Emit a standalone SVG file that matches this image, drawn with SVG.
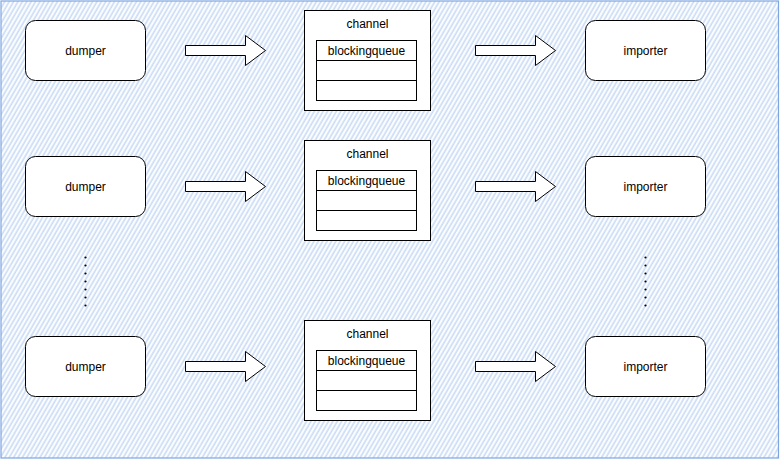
<svg xmlns="http://www.w3.org/2000/svg" width="781" height="461" viewBox="0 0 781 461">
  <defs>
    <pattern id="hatch" width="3.8" height="10" patternUnits="userSpaceOnUse" patternTransform="rotate(30)">
      <rect width="3.8" height="10" fill="#ffffff"/>
      <line x1="1.2" y1="0" x2="1.2" y2="10" stroke="#c9dcf6" stroke-width="1.7"/>
    </pattern>
    <style>
      .box { fill: #ffffff; stroke: #000000; stroke-width: 1; }
      .arrow { fill: #ffffff; stroke: #000000; stroke-width: 1; stroke-linejoin: miter; }
      .lbl { font-family: "Liberation Sans", Arial, Helvetica, sans-serif; font-size: 12px; fill: #000000; text-anchor: middle; }
      .dot { fill: #000000; }
    </style>
  </defs>

  <g id="background">
    <rect x="1" y="1" width="777.5" height="457" fill="url(#hatch)" stroke="#7ea6e0" stroke-width="1.2"/>
  </g>

  <g id="dumper1">
    <rect class="box" x="25.5" y="20.5" width="120" height="60" rx="10" ry="10"/>
    <text class="lbl" x="85.5" y="54.5">dumper</text>
  </g>
  <g id="dumper2">
    <rect class="box" x="25.5" y="156.5" width="120" height="60" rx="10" ry="10"/>
    <text class="lbl" x="85.5" y="190.5">dumper</text>
  </g>
  <g id="dumper3">
    <rect class="box" x="25.5" y="336.5" width="120" height="60" rx="10" ry="10"/>
    <text class="lbl" x="85.5" y="370.5">dumper</text>
  </g>

  <g id="channel1">
    <rect class="box" x="304.5" y="10.5" width="126" height="100"/>
    <text class="lbl" x="367.5" y="27.5">channel</text>
    <rect class="box" x="316.5" y="40.5" width="100" height="60"/>
    <line x1="316.5" y1="60.5" x2="416.5" y2="60.5" stroke="#000"/>
    <line x1="316.5" y1="80.5" x2="416.5" y2="80.5" stroke="#000"/>
    <text class="lbl" x="366.5" y="55">blockingqueue</text>
  </g>
  <g id="channel2">
    <rect class="box" x="304.5" y="140.5" width="126" height="100"/>
    <text class="lbl" x="367.5" y="157.5">channel</text>
    <rect class="box" x="316.5" y="170.5" width="100" height="60"/>
    <line x1="316.5" y1="190.5" x2="416.5" y2="190.5" stroke="#000"/>
    <line x1="316.5" y1="210.5" x2="416.5" y2="210.5" stroke="#000"/>
    <text class="lbl" x="366.5" y="185">blockingqueue</text>
  </g>
  <g id="channel3">
    <rect class="box" x="304.5" y="320.5" width="126" height="100"/>
    <text class="lbl" x="367.5" y="337.5">channel</text>
    <rect class="box" x="316.5" y="350.5" width="100" height="60"/>
    <line x1="316.5" y1="370.5" x2="416.5" y2="370.5" stroke="#000"/>
    <line x1="316.5" y1="390.5" x2="416.5" y2="390.5" stroke="#000"/>
    <text class="lbl" x="366.5" y="365">blockingqueue</text>
  </g>

  <g id="importer1">
    <rect class="box" x="585.5" y="20.5" width="120" height="60" rx="10" ry="10"/>
    <text class="lbl" x="645.5" y="54.5">importer</text>
  </g>
  <g id="importer2">
    <rect class="box" x="585.5" y="156.5" width="120" height="60" rx="10" ry="10"/>
    <text class="lbl" x="645.5" y="190.5">importer</text>
  </g>
  <g id="importer3">
    <rect class="box" x="585.5" y="336.5" width="120" height="60" rx="10" ry="10"/>
    <text class="lbl" x="645.5" y="370.5">importer</text>
  </g>

  <g id="ellipsis-left">
    <circle class="dot" cx="85.5" cy="257.5" r="1.1"/>
    <circle class="dot" cx="85.5" cy="265.5" r="1.1"/>
    <circle class="dot" cx="85.5" cy="273.5" r="1.1"/>
    <circle class="dot" cx="85.5" cy="281.5" r="1.1"/>
    <circle class="dot" cx="85.5" cy="289.5" r="1.1"/>
    <circle class="dot" cx="85.5" cy="297.5" r="1.1"/>
    <circle class="dot" cx="85.5" cy="305.5" r="1.1"/>
  </g>
  <g id="ellipsis-right">
    <circle class="dot" cx="645.5" cy="257.5" r="1.1"/>
    <circle class="dot" cx="645.5" cy="265.5" r="1.1"/>
    <circle class="dot" cx="645.5" cy="273.5" r="1.1"/>
    <circle class="dot" cx="645.5" cy="281.5" r="1.1"/>
    <circle class="dot" cx="645.5" cy="289.5" r="1.1"/>
    <circle class="dot" cx="645.5" cy="297.5" r="1.1"/>
    <circle class="dot" cx="645.5" cy="305.5" r="1.1"/>
  </g>

  <g id="connectors">
    <polygon class="arrow" points="185.5,45.5 245.5,45.5 245.5,35.5 265.5,50.5 245.5,65.5 245.5,55.5 185.5,55.5"/>
    <polygon class="arrow" points="185.5,181.5 245.5,181.5 245.5,171.5 265.5,186.5 245.5,201.5 245.5,191.5 185.5,191.5"/>
    <polygon class="arrow" points="185.5,361.5 245.5,361.5 245.5,351.5 265.5,366.5 245.5,381.5 245.5,371.5 185.5,371.5"/>
    <polygon class="arrow" points="475.5,45.5 535.5,45.5 535.5,35.5 555.5,50.5 535.5,65.5 535.5,55.5 475.5,55.5"/>
    <polygon class="arrow" points="475.5,181.5 535.5,181.5 535.5,171.5 555.5,186.5 535.5,201.5 535.5,191.5 475.5,191.5"/>
    <polygon class="arrow" points="475.5,361.5 535.5,361.5 535.5,351.5 555.5,366.5 535.5,381.5 535.5,371.5 475.5,371.5"/>
  </g>
</svg>
